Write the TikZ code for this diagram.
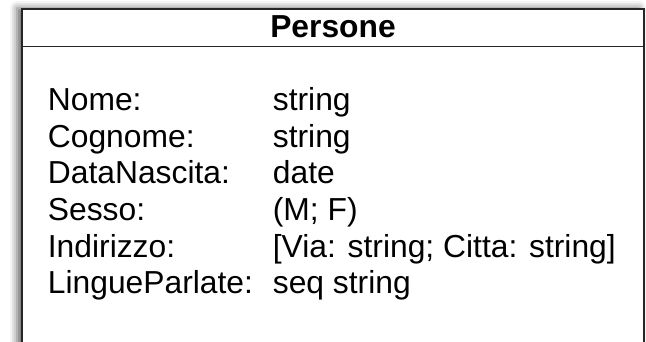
\documentclass[tikz,border=0pt]{standalone}
\usepackage{fontspec}
\setmainfont{Liberation Sans}
\usetikzlibrary{shadows.blur}

\begin{document}
\begin{tikzpicture}[x=1pt,y=-1pt,line width=1.8pt] %% tikz, y runs down
		\tikzstyle{attr}=[anchor=base west,inner sep=0pt,font=\fontsize{31.8}{36.6}\selectfont]
		\tikzstyle{head}=[anchor=base,inner sep=0pt,font=\fontsize{31.8}{36.6}\selectfont\bfseries]
		\clip (0,0) rectangle (646,341);
		%% class box and its shadow
		\fill[white,blur shadow={shadow xshift=-5pt,shadow yshift=1pt,shadow blur radius=7pt,shadow opacity=60}]
			(22,9) rectangle (644,380);
		\draw[black!85] (22,380) -- (22,9) -- (644,9) -- (644,380);
		\draw[black!85] (22,46.5) -- (644,46.5);
		%% class name
		\node[head] (name) at (333,37) {Persone};
		%% attributes
		\foreach \attr/\kind [count=\i] in {Nome:/string, Cognome:/string, DataNascita:/date,
			Sesso:/{(M; F)}, Indirizzo:/{[Via: string; Citta: string]}, LingueParlate:/seq string} {
			\node[attr] (a\i) at (47,{110.7+36.6*(\i-1)}) {\attr};
			\node[attr] (k\i) at (272,{110.7+36.6*(\i-1)}) {\kind};
		}
	\end{tikzpicture}
\end{document}
